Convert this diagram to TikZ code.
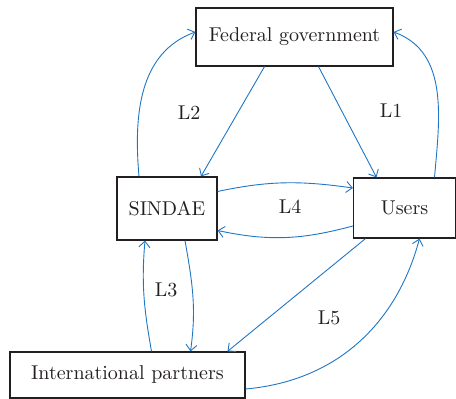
\documentclass[tikz,border=0pt]{standalone}
\usepackage{tikz}
\usetikzlibrary{arrows.meta,calc}
\definecolor{linkblue}{RGB}{30,118,196}
\definecolor{boxtext}{RGB}{35,31,32}

\begin{document}
\begin{tikzpicture}[
    x=0.5pt, y=0.5pt,
    % Estilos dos nós
    every node/.style={font=\normalsize, text=boxtext},
    actor/.style={draw=boxtext, line width=0.6pt, rectangle, fill=white, inner sep=0pt},
    link/.style={draw=linkblue, line width=0.45pt, -{Straight Barb[length=3pt,width=5.5pt]}},
    tag/.style={font=\normalsize}
]
\useasboundingbox (0,0) rectangle (456,399);

% Actors
\node[actor, minimum width=98.5pt, minimum height=29pt] (fed) at (294.5,362) {Federal government};
\node[actor, minimum width=50pt, minimum height=31.5pt] (sindae) at (167,190.5) {SINDAE};
\node[actor, minimum width=51pt, minimum height=30pt] (users) at (404.5,191) {Users};
\node[actor, minimum width=117.5pt, minimum height=23pt] (intl) at (127.5,24) {International partners};

% L1 and L2
\draw[link] ($(fed.south)+(-30,0)$) -- ($(sindae.north)+(34,0)$);
\draw[link] ($(fed.south)+(24,0)$) -- ($(users.north)+(-28,0)$);
\draw[link] ($(sindae.north)+(-28,0)$) to[out=95, in=200] ($(fed.west)+(0,5)$);
\draw[link] ($(users.north)+(30,0)$) to[out=85, in=-20] ($(fed.east)+(0,5)$);

% L4
\draw[link] ($(sindae.east)+(0,17)$) to[out=12, in=172] ($(users.west)+(0,20)$);
\draw[link] ($(users.west)+(0,-18)$) to[out=195, in=-12] ($(sindae.east)+(0,-22)$);

% L3
\draw[link] ($(intl.north)+(24,0)$) to[out=100, in=265] ($(sindae.south)+(-22,0)$);
\draw[link] ($(sindae.south)+(18,0)$) to[out=-80, in=82] ($(intl.north)+(63,0)$);

% L5
\draw[link] ($(users.south)+(-39,0)$) -- ($(intl.north)+(100,0)$);
\draw[link] ($(intl.east)+(0,-14)$) to[out=5, in=255] ($(users.south)+(15,0)$);

% Rótulos
\node[tag] (l1) at (391,288) {L1};
\node[tag] (l2) at (189,286) {L2};
\node[tag] (l3) at (166,109) {L3};
\node[tag] (l4) at (290,192) {L4};
\node[tag] (l5) at (329,81) {L5};

\end{tikzpicture}
\end{document}
